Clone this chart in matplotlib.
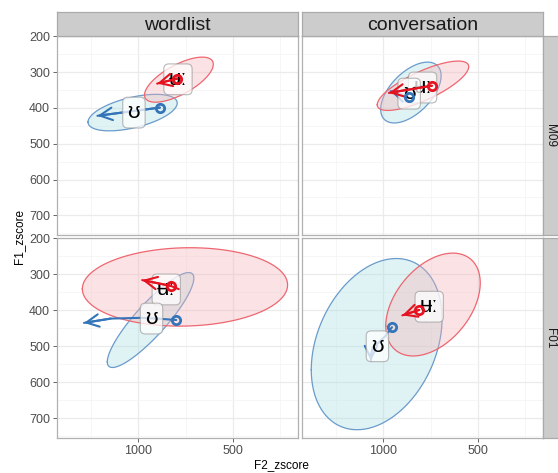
import matplotlib
matplotlib.use("Agg")
import matplotlib.pyplot as plt
import numpy as np

plt.rcParams['font.family'] = ['Liberation Sans', 'DejaVu Sans']

# facet order: M09 wordlist, M09 conversation, F01 wordlist, F01 conversation
speakers = ["M09", "M09", "F01", "F01"]
styles = ["wordlist", "conversation", "wordlist", "conversation"]

# vowel /ʉː/
uu_label = "ʉː"
uu_ell_f2 = [785, 790, 753, 737]
uu_ell_f1 = [321, 338, 335, 384]
uu_ell_rx = [182, 242, 543, 250]
uu_ell_ry = [63, 69, 109, 143]
uu_ell_rho = [0.68, 0.77, 0.05, 0.42]
uu_mean_f2 = [790, 792, 852, 757]
uu_mean_f1 = [320, 343, 342, 390]
uu_point_f2 = [794, 743, 829, 810]
uu_point_f1 = [318, 338, 332, 399]
uu_traj_f2 = [[794, 900], [743, 970], [786, 829, 979], [810, 899]]
uu_traj_f1 = [[318, 332], [338, 358], [341, 332, 316], [399, 414]]

# vowel /ʊ/
oo_label = "ʊ"
oo_ell_f2 = [1030, 854, 935, 1035]
oo_ell_f1 = [413, 357, 427, 494]
oo_ell_rx = [236, 160, 229, 346]
oo_ell_ry = [51, 85, 132, 238]
oo_ell_rho = [0.52, 0.55, 0.88, 0.30]
oo_mean_f2 = [1023, 863, 930, 1031]
oo_mean_f1 = [413, 360, 423, 500]
oo_point_f2 = [886, 863, 799, 954]
oo_point_f1 = [399, 370, 427, 447]
oo_traj_f2 = [[886, 1216], [863, 961], [799, 899, 988, 1146, 1287],
              [954, 986, 1023, 1055, 1065, 1065]]
oo_traj_f1 = [[399, 422], [370, 353], [427, 423, 421, 423, 435],
              [447, 470, 489, 503, 523, 540]]

W, H = 558, 473
col_edges = [(57, 298), (302, 543)]
row_edges = [(36, 235), (238, 438)]


def rect(l, t, r, b):
    return [l / W, 1 - b / H, (r - l) / W, (b - t) / H]


def ellipse(cx, cy, rx, ry, rho):
    t = np.linspace(0, 2 * np.pi, 200)
    x = cx + rx * np.cos(t)
    y = cy + ry * (rho * np.cos(t) + np.sqrt(1 - rho ** 2) * np.sin(t))
    return x, y


red_line = '#E5131F'
blue_line = '#3474B8'
red_fill, red_edge = '#F6B0B6', '#EE6670'
blue_fill, blue_edge = '#A6DDE2', '#6A9BCC'

fig = plt.figure(figsize=(W / 100, H / 100), dpi=100)

for i in range(4):
    r, c = divmod(i, 2)
    l, rr = col_edges[c]
    t, b = row_edges[r]
    ax = fig.add_axes(rect(l, t, rr, b))
    ax.set_xlim(1430, 155)
    ax.set_ylim(755, 199)
    ax.set_xticks([1000, 500])
    ax.set_xticks([1250, 750, 250], minor=True)
    ax.set_yticks([200, 300, 400, 500, 600, 700])
    ax.set_yticks([250, 350, 450, 550, 650, 750], minor=True)
    ax.grid(True, which='major', color='#EBEBEB', lw=0.9, zorder=0)
    ax.grid(True, which='minor', color='#F5F5F5', lw=0.6, zorder=0)
    ax.set_axisbelow(True)
    for s in ax.spines.values():
        s.set_color('#B0B0B0')
        s.set_linewidth(0.9)
    ax.tick_params(which='both', length=0, labelsize=9, labelcolor='#4D4D4D')
    ax.tick_params(which='major', length=3, color='#666666', width=0.7, pad=2)
    if c == 1:
        ax.tick_params(labelleft=False, left=False)
    if r == 0:
        ax.tick_params(labelbottom=False, bottom=False)

    # ellipses
    ex, ey = ellipse(oo_ell_f2[i], oo_ell_f1[i], oo_ell_rx[i], oo_ell_ry[i], oo_ell_rho[i])
    ax.fill(ex, ey, color=blue_fill, alpha=0.35, lw=0, zorder=1)
    ax.plot(ex, ey, color=blue_edge, lw=0.9, zorder=1)
    ex, ey = ellipse(uu_ell_f2[i], uu_ell_f1[i], uu_ell_rx[i], uu_ell_ry[i], uu_ell_rho[i])
    ax.fill(ex, ey, color=red_fill, alpha=0.35, lw=0, zorder=1)
    ax.plot(ex, ey, color=red_edge, lw=0.9, zorder=1)

    # trajectories with arrow at the end
    for tx, ty, col, z in [(oo_traj_f2[i], oo_traj_f1[i], blue_line, 2),
                           (uu_traj_f2[i], uu_traj_f1[i], red_line, 4)]:
        ax.plot(tx, ty, color=col, lw=1.5, zorder=z, solid_capstyle='round')
        ax.annotate('', xy=(tx[-1], ty[-1]), xytext=(tx[-2], ty[-2]),
                    arrowprops=dict(arrowstyle='->,head_length=0.9,head_width=0.45',
                                    color=col, lw=1.5, shrinkA=0, shrinkB=0),
                    zorder=z)

    # vowel labels at the means
    for lx, ly, txt in [(uu_mean_f2[i], uu_mean_f1[i], uu_label),
                        (oo_mean_f2[i], oo_mean_f1[i], oo_label)]:
        ax.text(lx, ly, txt, ha='center', va='center', fontsize=16, color='black',
                zorder=3,
                bbox=dict(boxstyle='round,pad=0.22,rounding_size=0.22',
                          fc='white', ec='#A0A0A0', lw=0.8, alpha=0.75))

    ax.plot(oo_point_f2[i], oo_point_f1[i], 'o', ms=6, mfc='none', mec=blue_line,
            mew=2, zorder=5)
    ax.plot(uu_point_f2[i], uu_point_f1[i], 'o', ms=6, mfc='none', mec=red_line,
            mew=2, zorder=5)

# column strips
for c, name in enumerate(["wordlist", "conversation"]):
    l, rr = col_edges[c]
    sax = fig.add_axes(rect(l, 12, rr, 36))
    sax.set_facecolor('#CCCCCC')
    sax.set_xticks([])
    sax.set_yticks([])
    for s in sax.spines.values():
        s.set_color('#AAAAAA')
        s.set_linewidth(0.9)
    sax.text(0.5, 0.45, name, ha='center', va='center', fontsize=14,
             color='#1A1A1A', transform=sax.transAxes)

# row strips
for r, name in enumerate(["M09", "F01"]):
    t, b = row_edges[r]
    sax = fig.add_axes(rect(543, t, 560, b))
    sax.set_facecolor('#CCCCCC')
    sax.set_xticks([])
    sax.set_yticks([])
    for s in sax.spines.values():
        s.set_color('#AAAAAA')
        s.set_linewidth(0.9)
    fig.text(549.5 / W, 1 - (t + b) / 2 / H, name, ha='center', va='center',
             fontsize=8.5, color='#1A1A1A', rotation=-90)

fig.text(281 / W, 1 - 465 / H, "F2_zscore", ha='center', va='center', fontsize=8.5)
fig.text(19 / W, 1 - 237 / H, "F1_zscore", ha='center', va='center', fontsize=8.5,
         rotation=90)

fig.savefig("out.png", dpi=100)
